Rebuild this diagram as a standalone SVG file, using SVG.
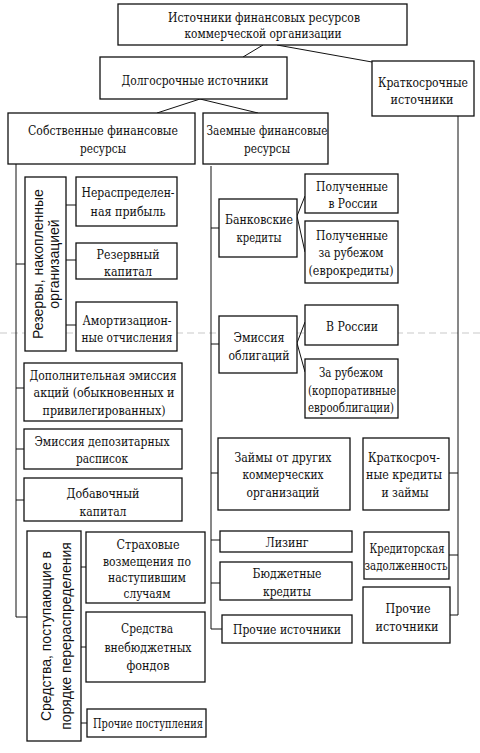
<svg xmlns="http://www.w3.org/2000/svg" width="480" height="753" viewBox="0 0 480 753">
<style>
.bg{fill:#fff}
.box{fill:#fff;stroke:#111;stroke-width:1.3}
.t{font-family:"DejaVu Serif Condensed","DejaVu Serif","Liberation Serif",serif;font-stretch:condensed;font-size:12.5px;fill:#111;text-anchor:middle}
.v{font-family:"Liberation Sans","DejaVu Sans",sans-serif;font-size:14px;fill:#111;text-anchor:middle}
.c{fill:none;stroke:#111;stroke-width:1}
.scan{fill:none;stroke:#bbb;stroke-width:0.8;stroke-dasharray:7 4}
</style>
<rect class="bg" x="0" y="0" width="480" height="753"/>
<line class="scan" x1="0" y1="333" x2="480" y2="333"/>
<g id="connectors">
<path class="c" d="M263,45 L243,57"/>
<path class="c" d="M277,45 L372,62"/>
<path class="c" d="M200,99 L157,113"/>
<path class="c" d="M200,99 L258,113"/>
<path class="c" d="M16,164 V617 H27"/>
<path class="c" d="M16,264 H25 M16,388 H24 M16,449 H24 M16,500 H24"/>
<path class="c" d="M66,205 H76 M66,260 H76 M66,325 H76"/>
<path class="c" d="M81,567 H86 M81,647 H86 M81,723 H87"/>
<path class="c" d="M211,166 V629 H222"/>
<path class="c" d="M211,228 H219 M211,344 H219 M211,473 H218 M211,540 H220 M211,583 H220"/>
<path class="c" d="M305,196 L297,216 L305,252"/>
<path class="c" d="M305,322 L297,343 L305,372"/>
<path class="c" d="M458,116 V615 H450"/>
<path class="c" d="M449,473 H458 M449,555 H458"/>
</g>
<g id="n-root"><rect class="box" x="118" y="4" width="289" height="41"/>
<text class="t" x="264" y="22" textLength="192" lengthAdjust="spacingAndGlyphs">Источники финансовых ресурсов</text>
<text class="t" x="263" y="38" textLength="157" lengthAdjust="spacingAndGlyphs">коммерческой организации</text></g>
<g id="n-long"><rect class="box" x="100" y="57" width="187" height="42"/>
<text class="t" x="195" y="85" textLength="147" lengthAdjust="spacingAndGlyphs">Долгосрочные источники</text></g>
<g id="n-short"><rect class="box" x="372" y="61" width="102" height="55"/>
<text class="t" x="423" y="87" textLength="90" lengthAdjust="spacingAndGlyphs">Краткосрочные</text>
<text class="t" x="422" y="104" textLength="63" lengthAdjust="spacingAndGlyphs">источники</text></g>
<g id="n-own"><rect class="box" x="8" y="113" width="187" height="51"/>
<text class="t" x="103" y="135" textLength="150" lengthAdjust="spacingAndGlyphs">Собственные финансовые</text>
<text class="t" x="103" y="153" textLength="46" lengthAdjust="spacingAndGlyphs">ресурсы</text></g>
<g id="n-borrowed"><rect class="box" x="203" y="113" width="125" height="51"/>
<text class="t" x="267" y="135" textLength="121" lengthAdjust="spacingAndGlyphs">Заемные финансовые</text>
<text class="t" x="267" y="153" textLength="46" lengthAdjust="spacingAndGlyphs">ресурсы</text></g>
<g id="n-reserves"><rect class="box" x="25" y="177" width="41" height="174"/>
<text class="v" transform="translate(43,264) rotate(-90)">Резервы, накопленные</text>
<text class="v" transform="translate(59,264) rotate(-90)">организацией</text></g>
<g id="n-profit"><rect class="box" x="76" y="177" width="101" height="49"/>
<text class="t" x="128" y="197" textLength="93" lengthAdjust="spacingAndGlyphs">Нераспределен-</text>
<text class="t" x="128" y="216" textLength="75" lengthAdjust="spacingAndGlyphs">ная прибыль</text></g>
<g id="n-rescap"><rect class="box" x="76" y="243" width="101" height="36"/>
<text class="t" x="128" y="259" textLength="63" lengthAdjust="spacingAndGlyphs">Резервный</text>
<text class="t" x="128" y="276" textLength="48" lengthAdjust="spacingAndGlyphs">капитал</text></g>
<g id="n-amort"><rect class="box" x="76" y="302" width="101" height="49"/>
<text class="t" x="127" y="325" textLength="89" lengthAdjust="spacingAndGlyphs">Амортизацион-</text>
<text class="t" x="127" y="342" textLength="91" lengthAdjust="spacingAndGlyphs">ные отчисления</text></g>
<g id="n-addemission"><rect class="box" x="24" y="363" width="158" height="58"/>
<text class="t" x="103" y="380" textLength="147" lengthAdjust="spacingAndGlyphs">Дополнительная эмиссия</text>
<text class="t" x="104" y="397" textLength="141" lengthAdjust="spacingAndGlyphs">акций (обыкновенных и</text>
<text class="t" x="104" y="415" textLength="123" lengthAdjust="spacingAndGlyphs">привилегированных)</text></g>
<g id="n-depos"><rect class="box" x="24" y="429" width="158" height="40"/>
<text class="t" x="102" y="446" textLength="135" lengthAdjust="spacingAndGlyphs">Эмиссия депозитарных</text>
<text class="t" x="102" y="463" textLength="52" lengthAdjust="spacingAndGlyphs">расписок</text></g>
<g id="n-addcap"><rect class="box" x="24" y="478" width="158" height="43"/>
<text class="t" x="103" y="498" textLength="73" lengthAdjust="spacingAndGlyphs">Добавочный</text>
<text class="t" x="103" y="516" textLength="47" lengthAdjust="spacingAndGlyphs">капитал</text></g>
<g id="n-redistr"><rect class="box" x="27" y="531" width="54" height="210"/>
<text class="v" transform="translate(51,636) rotate(-90)">Средства, поступающие в</text>
<text class="v" transform="translate(71,636) rotate(-90)">порядке перераспределения</text></g>
<g id="n-insur"><rect class="box" x="86" y="532" width="119" height="71"/>
<text class="t" x="148" y="549" textLength="63" lengthAdjust="spacingAndGlyphs">Страховые</text>
<text class="t" x="147" y="566" textLength="88" lengthAdjust="spacingAndGlyphs">возмещения по</text>
<text class="t" x="147" y="582" textLength="78" lengthAdjust="spacingAndGlyphs">наступившим</text>
<text class="t" x="147" y="598" textLength="47" lengthAdjust="spacingAndGlyphs">случаям</text></g>
<g id="n-funds"><rect class="box" x="86" y="612" width="119" height="70"/>
<text class="t" x="147" y="633" textLength="52" lengthAdjust="spacingAndGlyphs">Средства</text>
<text class="t" x="148" y="652" textLength="87" lengthAdjust="spacingAndGlyphs">внебюджетных</text>
<text class="t" x="148" y="670" textLength="43" lengthAdjust="spacingAndGlyphs">фондов</text></g>
<g id="n-otherrec"><rect class="box" x="87" y="709" width="119" height="28"/>
<text class="t" x="148" y="728" textLength="110" lengthAdjust="spacingAndGlyphs">Прочие поступления</text></g>
<g id="n-bank"><rect class="box" x="219" y="199" width="78" height="58"/>
<text class="t" x="259" y="224" textLength="68" lengthAdjust="spacingAndGlyphs">Банковские</text>
<text class="t" x="259" y="242" textLength="45" lengthAdjust="spacingAndGlyphs">кредиты</text></g>
<g id="n-bank-ru"><rect class="box" x="305" y="174" width="93" height="39"/>
<text class="t" x="352" y="191" textLength="72" lengthAdjust="spacingAndGlyphs">Полученные</text>
<text class="t" x="353" y="208" textLength="49" lengthAdjust="spacingAndGlyphs">в России</text></g>
<g id="n-bank-abroad"><rect class="box" x="305" y="221" width="93" height="62"/>
<text class="t" x="352" y="240" textLength="72" lengthAdjust="spacingAndGlyphs">Полученные</text>
<text class="t" x="351" y="257" textLength="65" lengthAdjust="spacingAndGlyphs">за рубежом</text>
<text class="t" x="351" y="275" textLength="85" lengthAdjust="spacingAndGlyphs">(еврокредиты)</text></g>
<g id="n-bonds"><rect class="box" x="219" y="316" width="78" height="57"/>
<text class="t" x="259" y="342" textLength="51" lengthAdjust="spacingAndGlyphs">Эмиссия</text>
<text class="t" x="259" y="360" textLength="61" lengthAdjust="spacingAndGlyphs">облигаций</text></g>
<g id="n-bonds-ru"><rect class="box" x="305" y="305" width="93" height="40"/>
<text class="t" x="352" y="331" textLength="52" lengthAdjust="spacingAndGlyphs">В России</text></g>
<g id="n-bonds-abroad"><rect class="box" x="305" y="359" width="93" height="59"/>
<text class="t" x="351" y="377" textLength="64" lengthAdjust="spacingAndGlyphs">За рубежом</text>
<text class="t" x="352" y="395" textLength="88" lengthAdjust="spacingAndGlyphs">(корпоративные</text>
<text class="t" x="351" y="412" textLength="86" lengthAdjust="spacingAndGlyphs">еврооблигации)</text></g>
<g id="n-loans"><rect class="box" x="218" y="438" width="132" height="72"/>
<text class="t" x="283" y="462" textLength="97" lengthAdjust="spacingAndGlyphs">Займы от других</text>
<text class="t" x="283" y="479" textLength="81" lengthAdjust="spacingAndGlyphs">коммерческих</text>
<text class="t" x="283" y="497" textLength="73" lengthAdjust="spacingAndGlyphs">организаций</text></g>
<g id="n-leasing"><rect class="box" x="220" y="531" width="132" height="21"/>
<text class="t" x="287" y="547" textLength="43" lengthAdjust="spacingAndGlyphs">Лизинг</text></g>
<g id="n-budget"><rect class="box" x="220" y="562" width="132" height="38"/>
<text class="t" x="287" y="578" textLength="69" lengthAdjust="spacingAndGlyphs">Бюджетные</text>
<text class="t" x="287" y="596" textLength="48" lengthAdjust="spacingAndGlyphs">кредиты</text></g>
<g id="n-other-l"><rect class="box" x="222" y="615" width="130" height="28"/>
<text class="t" x="287" y="634" textLength="108" lengthAdjust="spacingAndGlyphs">Прочие источники</text></g>
<g id="n-stloans"><rect class="box" x="363" y="438" width="86" height="72"/>
<text class="t" x="404" y="462" textLength="72" lengthAdjust="spacingAndGlyphs">Краткосроч-</text>
<text class="t" x="404" y="479" textLength="76" lengthAdjust="spacingAndGlyphs">ные кредиты</text>
<text class="t" x="405" y="497" textLength="47" lengthAdjust="spacingAndGlyphs">и займы</text></g>
<g id="n-payable"><rect class="box" x="364" y="532" width="85" height="47"/>
<text class="t" x="407" y="553" textLength="75" lengthAdjust="spacingAndGlyphs">Кредиторская</text>
<text class="t" x="406" y="570" textLength="83" lengthAdjust="spacingAndGlyphs">задолженность</text></g>
<g id="n-other-r"><rect class="box" x="363" y="587" width="87" height="56"/>
<text class="t" x="408" y="613" textLength="45" lengthAdjust="spacingAndGlyphs">Прочие</text>
<text class="t" x="407" y="631" textLength="63" lengthAdjust="spacingAndGlyphs">источники</text></g>
</svg>
